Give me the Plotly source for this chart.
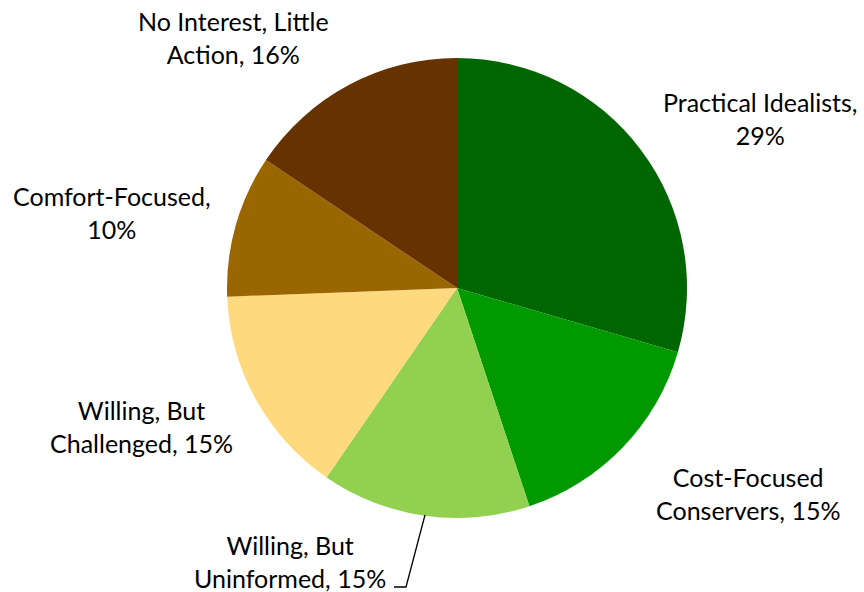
import plotly.graph_objects as go

labels = ["Practical Idealists", "Cost-Focused Conservers", "Willing, But Uninformed",
          "Willing, But Challenged", "Comfort-Focused", "No Interest, Little Action"]
values = [29.5, 15.4, 14.7, 14.8, 10.0, 15.6]
label_text = ["Practical Idealists,<br>29%", "Cost-Focused<br>Conservers, 15%",
              "Willing, But<br>Uninformed, 15%", "Willing, But<br>Challenged, 15%",
              "Comfort-Focused,<br>10%", "No Interest, Little<br>Action, 16%"]
colors = ["#006600", "#009900", "#92D050", "#FFD97D", "#996600", "#663300"]

W, H = 864, 592
cx, cy, r = 457, 288, 230

fig = go.Figure(go.Pie(
    labels=labels, values=values, sort=False, direction="clockwise", rotation=0,
    marker=dict(colors=colors, line=dict(width=0)),
    textinfo="none", hoverinfo="label+percent", showlegend=False,
    domain=dict(x=[(cx - r) / W, (cx + r) / W], y=[1 - (cy + r) / H, 1 - (cy - r) / H]),
))

# label anchor positions (pixel centers)
label_pos = [(760, 118), (748, 493), (290, 561), (141, 426), (112, 212), (233, 38)]
font = dict(family="Lato, 'Open Sans', sans-serif", size=25, color="#000000")
for t, (x, y) in zip(label_text, label_pos):
    fig.add_annotation(x=x / W, y=1 - y / H, xref="paper", yref="paper", text=t,
                       showarrow=False, font=font, align="center",
                       xanchor="center", yanchor="middle")

# leader line for Willing, But Uninformed
fig.add_shape(type="path", xref="paper", yref="paper",
              path=f"M {425/W} {1-515/H} L {406/W} {1-587/H} L {394/W} {1-587/H}",
              line=dict(color="#000000", width=1.3))

fig.update_layout(width=W, height=H, margin=dict(l=0, r=0, t=0, b=0),
                  paper_bgcolor="white", plot_bgcolor="white")
fig.write_html("out.html", config={"displayModeBar": False},
               post_script="document.body.style.margin='0px';document.body.style.overflow='hidden';")
